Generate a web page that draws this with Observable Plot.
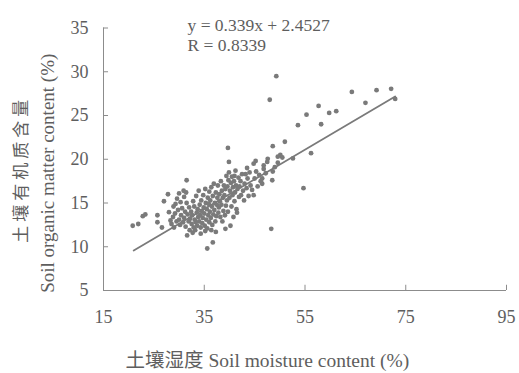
<!DOCTYPE html>
<html><head><meta charset="utf-8">
<script src="https://cdn.jsdelivr.net/npm/d3@7"></script>
<script src="https://cdn.jsdelivr.net/npm/@observablehq/plot@0.6"></script>
<style>body{margin:0;background:#fff;}</style>
</head><body><div id="chart"></div>
<script>
// Soil moisture content (%) and soil organic matter content (%) per sample
const soilMoisture = [
  49.3,48.0,64.3,69.2,72.1,72.9,67.0,57.7,59.8,61.2,55.3,58.2,53.6,51.0,48.6,56.2,52.6,50.1,50.5,47.6,
  46.8,48.6,54.7,46.5,48.3,44.8,39.7,39.9,45.2,43.5,41.2,41.0,39.9,49.6,
  20.8,21.9,22.8,23.3,25.7,25.7,26.6,27.0,27.8,28.0,28.3,30.0,29.3,30.3,31.0,31.5,31.6,35.6,36.7,
  28.5,28.8,29.0,29.2,29.5,29.8,30.0,30.2,29.6,28.9,
  30.4,30.6,30.8,31.0,31.2,31.3,31.5,31.7,31.9,32.0,30.9,31.4,32.1,32.2,
  32.4,32.5,32.6,32.8,32.9,33.0,33.1,33.3,33.4,33.5,33.6,33.7,33.8,33.9,34.0,34.1,34.2,34.3,32.7,33.2,
  34.4,34.5,34.6,34.7,34.8,34.9,35.0,35.1,35.2,35.3,35.4,35.5,35.6,35.7,35.8,35.9,36.0,34.3,35.2,36.0,
  36.1,36.2,36.3,36.4,36.5,36.6,36.7,36.8,36.9,37.0,37.1,37.2,37.3,37.4,37.5,37.6,37.7,37.8,37.9,38.0,36.4,37.3,
  38.1,38.2,38.3,38.4,38.5,38.6,38.7,38.8,38.9,39.0,39.1,39.2,39.3,39.4,39.5,39.6,39.7,39.8,39.2,40.2,
  40.0,40.1,40.3,40.4,40.5,40.6,40.7,40.8,40.9,41.0,41.1,41.3,41.4,41.5,41.6,41.8,41.9,
  42.0,42.2,42.3,42.5,42.7,42.9,43.0,43.2,43.4,43.6,43.8,44.0,
  44.2,44.5,44.8,45.0,45.3,45.6,45.9,46.2,46.5,46.8,
  47.2,47.5,48.5,49.0,49.6
];
const organicMatter = [
  29.5,26.8,27.7,27.9,28.05,26.9,26.45,26.1,25.3,25.5,25.1,24.0,23.9,22.0,21.5,20.7,20.1,20.5,20.2,20.05,
  19.3,18.6,16.7,17.8,12.05,15.9,21.3,19.7,19.8,19.0,18.7,18.1,18.5,20.3,
  12.4,12.6,13.5,13.7,13.6,12.8,12.2,15.2,16.0,13.95,13.0,16.1,14.9,15.1,15.7,17.6,11.3,9.8,10.5,
  12.6,13.4,12.2,13.8,12.9,14.2,13.1,12.5,15.5,14.6,
  13.6,14.4,12.8,13.3,14.0,12.3,15.0,13.7,12.9,14.5,16.4,16.2,11.9,13.2,
  14.0,12.6,13.6,15.2,12.2,14.6,13.1,12.8,15.8,13.9,12.4,14.3,13.4,16.4,12.9,14.8,13.6,12.2,11.6,11.9,
  15.3,14.1,12.7,13.3,15.9,14.5,13.8,12.4,16.6,15.0,13.1,14.3,12.1,15.6,13.6,14.9,12.8,11.5,11.8,16.3,
  14.0,15.3,13.3,16.8,14.6,12.5,15.8,13.7,17.2,14.2,15.0,12.9,16.2,13.5,14.8,15.6,17.0,13.9,14.5,16.0,11.9,11.7,
  15.2,13.4,17.5,14.8,16.4,12.9,15.6,14.1,17.0,15.9,13.6,16.6,14.7,18.1,15.3,16.9,14.0,17.6,12.05,12.4,
  15.6,16.4,17.3,14.6,18.0,15.9,16.8,13.4,17.5,15.2,16.2,17.0,14.3,13.9,16.6,17.9,15.7,
  16.9,17.5,15.9,18.3,16.4,15.3,17.2,18.3,16.7,17.8,15.8,18.5,
  17.0,16.5,19.5,17.8,18.6,16.9,18.2,17.5,17.2,18.9,
  18.4,19.7,17.6,19.1,19.6
];
const xTicks = [15, 35, 55, 75, 95];
const yTicks = [5, 10, 15, 20, 25, 30, 35];
const slope = 0.339, intercept = 2.4527;
const fitRange = [21.0, 72.9];
const equationLines = ["y = 0.339x + 2.4527", "R = 0.8339"];
const xLabelText = "土壤湿度 Soil moisture content (%)";
const yLabelCn = "土壤有机质含量";
const yLabelEn = "Soil organic matter content (%)";

const points = soilMoisture.map((x, i) => ({x, y: organicMatter[i]}));
const fitLine = fitRange.map(x => ({x, y: slope * x + intercept}));

const axisColor = "#8c8c8c";
const textColor = "#5e5e5e";
const dotColor = "#7a7a7a";

const chart = Plot.plot({
  width: 519, height: 373,
  marginTop: 27.5, marginRight: 13, marginBottom: 83, marginLeft: 103,
  style: {fontFamily: "'Liberation Serif', 'Noto Sans CJK SC', serif", background: "#fff", color: textColor},
  x: {domain: [15, 95], ticks: xTicks, label: null},
  y: {domain: [5, 35], ticks: yTicks, label: null},
  marks: [
    Plot.ruleY([5], {x1: 15, x2: 95, stroke: axisColor}),
    Plot.ruleX([15], {y1: 5, y2: 35, stroke: axisColor}),
    Plot.ruleX(xTicks, {y1: 5, y2: 5.6, stroke: axisColor}),
    Plot.ruleY(yTicks, {x1: 15, x2: 16, stroke: axisColor}),
    Plot.axisX(xTicks, {tickSize: 0, tickPadding: 20, fontSize: 18, fill: textColor, label: null}),
    Plot.axisY(yTicks, {tickSize: 0, tickPadding: 15, fontSize: 18, fill: textColor, label: null}),
    Plot.line(fitLine, {x: "x", y: "y", stroke: dotColor, strokeWidth: 1.8}),
    Plot.dot(points, {x: "x", y: "y", r: 2.4, fill: dotColor}),
    Plot.text([equationLines[0]], {text: d => d, frameAnchor: "top-left", dx: 84, dy: 3, lineAnchor: "bottom", textAnchor: "start", fontSize: 17.5, fill: textColor}),
    Plot.text([equationLines[1]], {text: d => d, frameAnchor: "top-left", dx: 84, dy: 22.5, lineAnchor: "bottom", textAnchor: "start", fontSize: 17.5, fill: textColor}),
    Plot.text([xLabelText], {text: d => d, frameAnchor: "bottom-left", dx: 22, dy: 76, lineAnchor: "bottom", textAnchor: "start", fontSize: 19.5, fill: textColor}),
    Plot.text([yLabelCn], {text: d => d, frameAnchor: "left", rotate: -90, dx: -82, dy: 10, lineAnchor: "middle", textAnchor: "middle", fontSize: 17, fill: textColor}),
    Plot.text([yLabelEn], {text: d => d, frameAnchor: "left", rotate: -90, dx: -56, dy: 14, lineAnchor: "middle", textAnchor: "middle", fontSize: 19, fill: textColor})
  ]
});
// widen the spacing of the Chinese y label like the reference
d3.select(chart).selectAll("text").filter(function() { return this.textContent === yLabelCn; })
  .style("letter-spacing", "4px");
document.getElementById("chart").appendChild(chart);
</script>
</body></html>
